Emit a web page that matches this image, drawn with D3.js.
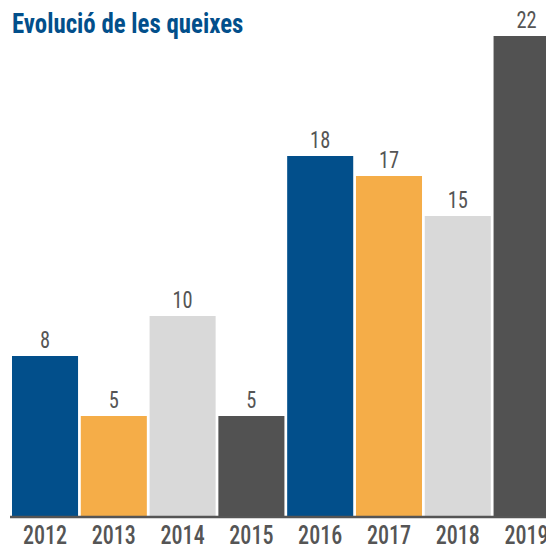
<!DOCTYPE html>
<html>
<head>
<meta charset="utf-8">
<script src="https://cdn.jsdelivr.net/npm/d3@7"></script>
<style>
  body { margin: 0; background: #fff; }
  .chart text { font-family: "Roboto Condensed", "Liberation Sans Narrow", "DejaVu Sans Condensed", sans-serif; }
</style>
</head>
<body>
<div class="chart"></div>
<script>
const years = ['2012', '2013', '2014', '2015', '2016', '2017', '2018', '2019'];
const values = [8, 5, 10, 5, 18, 17, 15, 22];
// the 2019 bar is drawn taller than its label in the original
const barValues = [8, 5, 10, 5, 18, 17, 15, 24];
const colors = ['#024f8b', '#f5ad48', '#d9d9d9', '#525252', '#024f8b', '#f5ad48', '#d9d9d9', '#525252'];
const title = 'Evolució de les queixes';

const width = 546, height = 547;
const baseY = 516;

const svg = d3.select('.chart').append('svg')
  .attr('width', width)
  .attr('height', height);

const xScale = d3.scaleBand()
  .domain(years)
  .range([12, 12 + 8 * 68.8 - 2.8])
  .paddingInner(0.04)
  .paddingOuter(0);

const yScale = d3.scaleLinear()
  .domain([0, 24])
  .range([baseY, 36]);

svg.selectAll('rect.bar')
  .data(years)
  .enter()
  .append('rect')
  .attr('class', 'bar')
  .attr('x', d => xScale(d))
  .attr('width', xScale.bandwidth())
  .attr('y', (d, i) => yScale(barValues[i]))
  .attr('height', (d, i) => baseY - yScale(barValues[i]))
  .style('fill', (d, i) => colors[i]);

// squeeze a text horizontally around its anchor point
function squeeze(sel, k) {
  sel.each(function () {
    const t = d3.select(this);
    const x = +t.attr('x') || 0;
    t.attr('transform', `translate(${x},0) scale(${k},1) translate(${-x},0)`);
  });
}

svg.selectAll('text.val')
  .data(years)
  .enter()
  .append('text')
  .attr('class', 'val')
  .attr('x', d => xScale(d) + xScale.bandwidth() / 2)
  .attr('y', (d, i) => yScale(barValues[i]) - 8)
  .attr('text-anchor', 'middle')
  .style('font-size', '24px')
  .style('font-weight', 400)
  .style('fill', '#555')
  .text((d, i) => values[i])
  .call(squeeze, 0.85);

svg.append('line')
  .attr('x1', 10).attr('x2', width)
  .attr('y1', baseY + 1).attr('y2', baseY + 1)
  .style('stroke', '#555')
  .style('stroke-width', 2.5);

svg.selectAll('text.year')
  .data(years)
  .enter()
  .append('text')
  .attr('class', 'year')
  .attr('x', d => xScale(d) + xScale.bandwidth() / 2)
  .attr('y', 544)
  .attr('text-anchor', 'middle')
  .style('font-size', '26px')
  .style('font-weight', 500)
  .style('fill', '#555')
  .text(d => d)
  .call(squeeze, 0.85);

svg.append('text')
  .attr('x', 12)
  .attr('y', 33)
  .style('font-size', '27px')
  .style('font-weight', 'bold')
  .style('fill', '#024f8b')
  .text(title)
  .call(squeeze, 0.92);
</script>
</body>
</html>
